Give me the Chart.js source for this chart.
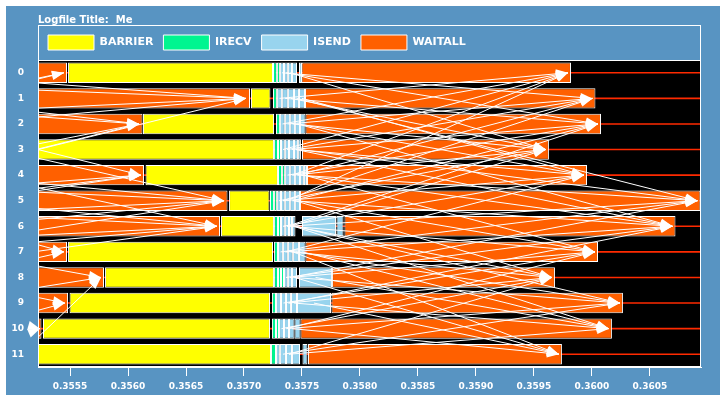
<!DOCTYPE html>
<html>
<head>
<meta charset="utf-8">
<script src="https://cdn.jsdelivr.net/npm/chart.js@4/dist/chart.umd.min.js"></script>
<style>
  html, body { margin: 0; padding: 0; background: #fff; }
  #wrap { position: absolute; left: 6px; top: 6px; width: 714px; height: 389px; background: #5894c2; }
  canvas { display: block; }
</style>
</head>
<body>
<div id="wrap"><canvas id="c" width="714" height="389"></canvas></div>
<script>
// time window of the view (seconds)
const xMin = 0.355224;
const xMax = 0.36094;

const ranks = ['0','1','2','3','4','5','6','7','8','9','10','11'];

// first WAITALL of each rank (before the barrier)
const waitStart = [
  [0.355224, 0.355474], [0.355224, 0.357052], [0.355224, 0.356125], null,
  [0.355224, 0.356138], [0.355224, 0.356858], [0.355224, 0.356793], [0.355224, 0.355474],
  [0.355224, 0.355793], [0.355224, 0.355483], [0.355224, 0.355254], null
];

const barrier = [
  [0.355483, 0.357250], [0.357060, 0.357228], [0.356129, 0.357259], [0.355224, 0.357259],
  [0.356151, 0.357293], [0.356871, 0.357220], [0.356802, 0.357259], [0.355483, 0.357250],
  [0.355802, 0.357259], [0.355496, 0.357224], [0.355267, 0.357224], [0.355224, 0.357233]
];

const irecv = [
  [[0.357250, 0.357284], [0.357284, 0.357310]],
  [[0.357250, 0.357284]],
  [[0.357276, 0.357310]],
  [[0.357259, 0.357293], [0.357293, 0.357319]],
  [[0.357293, 0.357328], [0.357328, 0.357353]],
  [[0.357224, 0.357259], [0.357259, 0.357284]],
  [[0.357259, 0.357293], [0.357293, 0.357319]],
  [[0.357259, 0.357293]],
  [[0.357259, 0.357293], [0.357293, 0.357319], [0.357319, 0.357345]],
  [[0.357241, 0.357276]],
  [[0.357241, 0.357276], [0.357276, 0.357302]],
  [[0.357233, 0.357276]]
];

const isend = [
  [[0.357310, 0.357345], [0.357345, 0.357379], [0.357379, 0.357414], [0.357414, 0.357457], [0.357474, 0.357500]],
  [[0.357284, 0.357328], [0.357328, 0.357379], [0.357379, 0.357431], [0.357431, 0.357474], [0.357474, 0.357526]],
  [[0.357310, 0.357353], [0.357353, 0.357397], [0.357397, 0.357440], [0.357440, 0.357483], [0.357483, 0.357530]],
  [[0.357319, 0.357353], [0.357353, 0.357388], [0.357388, 0.357431], [0.357431, 0.357466], [0.357466, 0.357491]],
  [[0.357353, 0.357397], [0.357397, 0.357440], [0.357440, 0.357483], [0.357483, 0.357517], [0.357517, 0.357543]],
  [[0.357284, 0.357319], [0.357319, 0.357353], [0.357353, 0.357397], [0.357397, 0.357440], [0.357440, 0.357483]],
  [[0.357319, 0.357353], [0.357353, 0.357388], [0.357388, 0.357414], [0.357414, 0.357444], [0.357500, 0.357793], [0.357797, 0.357858]],
  [[0.357293, 0.357336], [0.357336, 0.357379], [0.357379, 0.357422], [0.357422, 0.357474], [0.357474, 0.357530]],
  [[0.357345, 0.357379], [0.357379, 0.357414], [0.357414, 0.357457], [0.357474, 0.357759]],
  [[0.357276, 0.357319], [0.357319, 0.357362], [0.357362, 0.357405], [0.357405, 0.357457], [0.357457, 0.357750]],
  [[0.357302, 0.357345], [0.357345, 0.357388], [0.357388, 0.357435], [0.357435, 0.357487]],
  [[0.357276, 0.357310], [0.357310, 0.357362], [0.357362, 0.357414], [0.357414, 0.357483], [0.357504, 0.357547]]
];

// last WAITALL of each rank
const waitEnd = [
  [0.357496, 0.359819], [0.357526, 0.360030], [0.357530, 0.360078], [0.357500, 0.359629],
  [0.357543, 0.359957], [0.357483, 0.360935], [0.357866, 0.360720], [0.357530, 0.360052],
  [0.357759, 0.359681], [0.357754, 0.360267], [0.357487, 0.360172], [0.357552, 0.359741]
];

// messages: [send time, send rank, receive time, receive rank]
const messages = [
  // earlier exchange, arriving at the end of the first WAITALL
  [0.354379, 1, 0.355448, 0], [0.353603, 2, 0.355448, 0],
  [0.355224, 3, 0.357017, 1], [0.354034, 0, 0.357017, 1], [0.354552, 2, 0.357017, 1],
  [0.352310, 2, 0.357017, 1], [0.351450, 0, 0.357017, 1],
  [0.355207, 3, 0.356095, 2], [0.354207, 1, 0.356095, 2], [0.353862, 4, 0.356095, 2], [0.353000, 1, 0.356095, 2],
  [0.355224, 3, 0.356112, 4], [0.354379, 5, 0.356112, 4], [0.353172, 6, 0.356112, 4], [0.353200, 5, 0.356112, 4],
  [0.354897, 3, 0.356828, 5], [0.354466, 4, 0.356828, 5], [0.354638, 6, 0.356828, 5], [0.354034, 7, 0.356828, 5],
  [0.352000, 4, 0.356828, 5], [0.352100, 6, 0.356828, 5],
  [0.354552, 5, 0.356767, 6], [0.354207, 7, 0.356767, 6], [0.353603, 8, 0.356767, 6], [0.354724, 4, 0.356767, 6],
  [0.352200, 5, 0.356767, 6], [0.352300, 7, 0.356767, 6],
  [0.354638, 6, 0.355448, 7], [0.354466, 8, 0.355448, 7],
  [0.354552, 7, 0.355767, 8], [0.354379, 9, 0.355767, 8], [0.355069, 11, 0.355767, 8],
  [0.354379, 8, 0.355457, 9], [0.354638, 10, 0.355457, 9],
  [0.354724, 11, 0.355241, 10], [0.354466, 9, 0.355241, 10],
  // exchange after the barrier
  [0.357306, 1, 0.359793, 0], [0.357332, 2, 0.359793, 0], [0.357336, 3, 0.359793, 0],
  [0.357418, 4, 0.359793, 0], [0.357375, 5, 0.359793, 0],
  [0.357328, 0, 0.360004, 1], [0.357375, 2, 0.360004, 1], [0.357371, 3, 0.360004, 1],
  [0.357461, 4, 0.360004, 1], [0.357336, 5, 0.360004, 1],
  [0.357362, 0, 0.360052, 2], [0.357353, 1, 0.360052, 2], [0.357410, 3, 0.360052, 2], [0.357375, 4, 0.360052, 2],
  [0.357418, 5, 0.360052, 2], [0.357371, 6, 0.360052, 2],
  [0.357405, 1, 0.359603, 3], [0.357418, 2, 0.359603, 3], [0.357418, 4, 0.359603, 3], [0.357302, 5, 0.359603, 3],
  [0.357397, 0, 0.359603, 3], [0.357401, 6, 0.359603, 3],
  [0.357461, 2, 0.359931, 4], [0.357448, 3, 0.359931, 4], [0.357336, 5, 0.359931, 4], [0.357336, 6, 0.359931, 4],
  [0.357500, 1, 0.359931, 4], [0.357358, 7, 0.359931, 4],
  [0.357453, 1, 0.360909, 5], [0.357478, 3, 0.360909, 5], [0.357461, 4, 0.360909, 5], [0.357371, 6, 0.360909, 5],
  [0.357315, 7, 0.360909, 5], [0.357397, 8, 0.360909, 5],
  [0.357461, 2, 0.360694, 6], [0.357500, 4, 0.360694, 6], [0.357418, 5, 0.360694, 6], [0.357358, 7, 0.360694, 6],
  [0.357362, 8, 0.360694, 6], [0.357448, 3, 0.360694, 6], [0.357384, 9, 0.360694, 6],
  [0.357461, 5, 0.360026, 7], [0.357401, 6, 0.360026, 7], [0.357397, 8, 0.360026, 7], [0.357340, 9, 0.360026, 7],
  [0.357517, 4, 0.360026, 7], [0.357366, 10, 0.360026, 7],
  [0.357429, 6, 0.359655, 8], [0.357401, 7, 0.359655, 8], [0.357384, 9, 0.359655, 8], [0.357323, 10, 0.359655, 8],
  [0.357440, 5, 0.359655, 8], [0.357388, 11, 0.359655, 8],
  [0.357448, 7, 0.360241, 9], [0.357435, 8, 0.360241, 9], [0.357366, 10, 0.360241, 9], [0.357336, 11, 0.360241, 9],
  [0.357444, 6, 0.360241, 9],
  [0.357502, 7, 0.360146, 10], [0.357617, 8, 0.360146, 10], [0.357431, 9, 0.360146, 10], [0.357388, 11, 0.360146, 10],
  [0.357429, 6, 0.360146, 10],
  [0.357603, 9, 0.359715, 11], [0.357414, 10, 0.359715, 11], [0.357435, 8, 0.359715, 11], [0.357422, 7, 0.359715, 11]
];

const YELLOW = '#ffff00', GREEN = '#00f590', BLUE = '#98d4ee', ORANGE = '#ff6000', RED = '#ff2a00';
const FONT = 'DejaVu Sans';

const barBase = {
  borderColor: '#ffffff', borderWidth: 1, borderSkipped: false,
  grouped: false, barPercentage: 0.8, categoryPercentage: 1
};

let datasets = [];
datasets.push({ ...barBase, label: 'BARRIER', data: barrier, backgroundColor: YELLOW });
for (let k = 0; k < 3; k++)
  datasets.push({ ...barBase, label: 'IRECV', data: irecv.map(r => r[k] || null), backgroundColor: GREEN });
for (let k = 0; k < 6; k++)
  datasets.push({ ...barBase, label: 'ISEND', data: isend.map(r => r[k] || null), backgroundColor: BLUE });
datasets.push({ ...barBase, label: 'WAITALL', data: waitStart, backgroundColor: ORANGE });
datasets.push({ ...barBase, label: 'WAITALL', data: waitEnd, backgroundColor: ORANGE });
// rank time lines
datasets.push({ label: '', data: ranks.map(() => [xMin, xMax]), backgroundColor: RED,
  borderWidth: 0, grouped: false, barThickness: 1 });

const framePlugin = {
  id: 'frame',
  beforeDraw(chart) {
    const a = chart.chartArea, ctx = chart.ctx;
    ctx.save();
    ctx.fillStyle = '#000';
    ctx.fillRect(a.left, a.top, a.right - a.left, a.bottom - a.top);
    ctx.restore();
  },
  afterDraw(chart) {
    const a = chart.chartArea, ctx = chart.ctx, lg = chart.legend;
    ctx.save();
    ctx.strokeStyle = '#fff';
    ctx.lineWidth = 1;
    ctx.strokeRect(Math.round(a.left) + 0.5, Math.round(lg.top) + 0.5,
      Math.round(a.right - a.left) - 1, Math.round(a.top - lg.top));
    ctx.strokeRect(Math.round(a.left) + 0.5, Math.round(a.top) + 0.5,
      Math.round(a.right - a.left) - 1, Math.round(a.bottom - a.top) - 1);
    ctx.restore();
  }
};

const arrowPlugin = {
  id: 'arrows',
  afterDatasetsDraw(chart) {
    const ctx = chart.ctx, a = chart.chartArea;
    const xs = chart.scales.x, ys = chart.scales.y;
    ctx.save();
    ctx.strokeStyle = '#fff';
    ctx.fillStyle = '#fff';
    ctx.lineWidth = 1;
    ctx.save();
    ctx.beginPath();
    ctx.rect(a.left, a.top, a.right - a.left, a.bottom - a.top);
    ctx.clip();
    messages.forEach(m => {
      ctx.beginPath();
      ctx.moveTo(xs.getPixelForValue(m[0]), ys.getPixelForValue(m[1]));
      ctx.lineTo(xs.getPixelForValue(m[2]), ys.getPixelForValue(m[3]));
      ctx.stroke();
    });
    ctx.restore();
    messages.forEach(m => {
      const x1 = xs.getPixelForValue(m[0]), y1 = ys.getPixelForValue(m[1]);
      const x2 = xs.getPixelForValue(m[2]), y2 = ys.getPixelForValue(m[3]);
      const ang = Math.atan2(y2 - y1, x2 - x1);
      const len = 12, half = 4.5;
      const bx = x2 - len * Math.cos(ang), by = y2 - len * Math.sin(ang);
      ctx.beginPath();
      ctx.moveTo(x2, y2);
      ctx.lineTo(bx - half * Math.sin(ang), by + half * Math.cos(ang));
      ctx.lineTo(bx + half * Math.sin(ang), by - half * Math.cos(ang));
      ctx.closePath();
      ctx.fill();
    });
    ctx.restore();
  }
};

new Chart(document.getElementById('c'), {
  type: 'bar',
  data: { labels: ranks, datasets: datasets },
  plugins: [framePlugin, arrowPlugin],
  options: {
    responsive: false,
    animation: false,
    devicePixelRatio: 1,
    indexAxis: 'y',
    layout: { padding: { left: 0, right: 19, top: 0, bottom: 0 } },
    plugins: {
      title: {
        display: true, text: 'Logfile Title:  Me', align: 'start', fullSize: false,
        color: '#fff', font: { family: FONT, size: 10, weight: 'bold', lineHeight: 1 },
        padding: { top: 9, bottom: 0 }
      },
      legend: {
        display: true, position: 'top', align: 'start', fullSize: false,
        labels: {
          color: '#fff', boxWidth: 46, boxHeight: 15, padding: 10,
          font: { family: FONT, size: 11, weight: 'bold' },
          filter: (item, data) => {
            const lbl = data.datasets[item.datasetIndex].label;
            if (!lbl) return false;
            return data.datasets.findIndex(d => d.label === lbl) === item.datasetIndex;
          }
        }
      },
      tooltip: { enabled: false }
    },
    scales: {
      x: {
        type: 'linear', position: 'bottom', min: xMin, max: xMax,
        grid: { drawOnChartArea: false, tickLength: 9, color: '#fff' },
        border: { color: '#fff', width: 1 },
        ticks: {
          stepSize: 0.0005, includeBounds: false, autoSkip: false, maxRotation: 0,
          color: '#fff', padding: 5,
          font: { family: FONT, size: 9, weight: 'bold' },
          callback: v => v.toFixed(4)
        },
        afterFit: s => { s.height = 28; }
      },
      y: {
        type: 'category', offset: true,
        grid: { display: false },
        border: { color: '#fff', width: 1 },
        ticks: { color: '#fff', padding: 6, font: { family: FONT, size: 9, weight: 'bold' } },
        afterFit: s => { s.width = 32; }
      }
    }
  }
});
</script>
</body>
</html>
